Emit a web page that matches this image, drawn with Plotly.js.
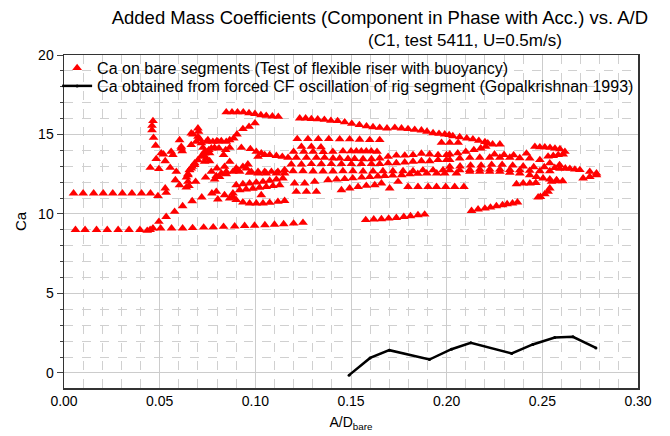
<!DOCTYPE html>
<html><head><meta charset="utf-8">
<script src="https://cdn.plot.ly/plotly-3.0.1.min.js"></script>
<style>html,body{margin:0;padding:0;background:#fff}#chart{width:670px;height:436px}</style>
</head><body><div id="chart"></div>
<script>
// Ca on bare segments, grouped by visible strands: [A/D, Ca]
const leftRows = [[0.005,11.3],[0.010,11.3],[0.0155,11.3],[0.0205,11.3],[0.0255,11.3],[0.0305,11.3],[0.0355,11.3],[0.0405,11.3],[0.0452,11.3],[0.0491,11.13],[0.0534,11.34],
[0.006,9.0],[0.011,9.0],[0.017,9.0],[0.0226,9.0],[0.0283,9.0],[0.034,9.0],[0.0397,9.0],[0.0435,8.95],[0.045,9.0],[0.0465,9.1],[0.0505,9.1],[0.0562,9.1],[0.062,9.1],[0.0672,9.12],[0.073,9.15],[0.078,9.17],[0.0834,9.2],[0.0892,9.22],[0.0944,9.25],[0.0996,9.27],[0.105,9.3],[0.110,9.33],[0.1148,9.36],[0.120,9.4],[0.1249,9.45]];

const earlyCluster = [[0.0496,9.51],[0.0534,9.82],[0.0578,10.14],[0.062,10.5],[0.067,10.81],[0.072,11.05],[0.0773,11.3],
[0.0465,15.85],[0.046,15.55],[0.046,15.28],[0.0468,14.8],[0.0479,14.3],[0.0508,13.82],[0.052,13.75],[0.0482,13.46],[0.0529,13.33],[0.0451,12.91],[0.0496,12.83],[0.0555,12.91],[0.056,13.92],[0.0569,13.71],[0.0613,14.13],[0.0618,13.96],[0.0587,12.66],
[0.0604,11.82],[0.0639,11.67],[0.0529,11.61],[0.0582,12.13],[0.0604,14.65],[0.0665,15.07],[0.0613,14.23]];

const midCluster = [[0.0648,12.03],[0.064,12.3],[0.0648,12.51],[0.0656,12.75],[0.067,12.97],[0.0683,13.19],[0.07,13.39],[0.0718,13.6],[0.0735,13.81],[0.0757,14.03],
[0.0665,14.34],[0.0674,15.01],[0.07,15.39],[0.0703,15.18],[0.07,14.86],[0.0709,14.72],[0.0691,14.55],[0.0718,14.45],[0.0726,14.17],[0.0735,13.92],[0.0723,13.71],[0.0744,13.5],[0.0735,13.29],[0.0761,13.33],[0.0752,14.65],[0.077,14.13],[0.0761,13.82],[0.0787,14.17],[0.0799,14.59],[0.0822,14.59],[0.0848,14.55],[0.0866,14.65],[0.0887,14.76],[0.0904,15.01],[0.0935,15.35],[0.0967,15.49],[0.0998,15.71],
[0.0744,14.55],[0.0778,14.55],[0.0804,14.55],
[0.081,14.13],[0.0845,14.03],[0.0834,13.71],[0.0866,14.17],[0.0927,14.17],[0.0974,14.09],[0.1005,13.92],[0.1031,13.82],[0.1049,13.71],[0.1075,13.71],[0.111,13.66],[0.1141,13.6],[0.1171,13.54],[0.1014,13.6],
[0.0866,13.29],[0.0839,12.97],[0.0799,12.87],[0.077,12.66],[0.09,12.87],[0.0935,12.97],[0.0961,13.12],[0.0918,12.66],[0.0979,12.66],[0.1014,12.66],[0.1049,12.66],[0.1084,12.66],[0.1118,12.66],[0.1153,12.77],[0.0665,12.87],[0.0683,13.08]];

const lowerCluster = [[0.0648,12.45],[0.0656,12.77],[0.0653,11.76],[0.0688,12.03],[0.074,12.3],[0.0796,12.39],[0.0822,12.56],[0.0848,12.66],[0.0909,12.77],[0.097,12.6],[0.1014,12.56],[0.1057,12.56],[0.111,12.56],[0.1153,12.56],
[0.0787,12.18],[0.0813,12.34],[0.0848,12.51],[0.0883,12.66],[0.0953,12.87],
[0.09,11.82],[0.0935,11.88],[0.097,11.93],[0.1005,11.98],[0.104,12.03],[0.1075,12.1],[0.111,12.17],[0.1144,12.24],
[0.0918,11.5],[0.0952,11.55],[0.0987,11.6],[0.1022,11.66],[0.1057,11.71],[0.1092,11.76],[0.1127,11.82],
[0.0804,10.92],[0.0839,11.19],[0.0883,11.3],[0.0866,10.98],[0.09,10.88],[0.0935,10.73],[0.097,10.67],[0.1005,10.67],[0.104,10.67],[0.1075,10.71],[0.1118,10.77],[0.1153,10.83],[0.1031,11.19],[0.0796,11.4],[0.0883,11.08]];

const topBands = [[0.0848,16.4],[0.0878,16.4],[0.0907,16.4],[0.0937,16.4],[0.0967,16.35],[0.0998,16.3],[0.1029,16.22],[0.1057,16.18],[0.1089,16.14],[0.112,16.12],
[0.1232,16.02],[0.1263,16.02],[0.1293,15.98],[0.1326,15.96],[0.1361,15.93],[0.1395,15.87],[0.143,15.85],[0.1467,15.77],[0.1504,15.68],[0.1544,15.6],[0.1581,15.52],[0.1615,15.47],[0.165,15.43],[0.1688,15.39],[0.1729,15.43],[0.1764,15.39],[0.1798,15.35],[0.1833,15.3],[0.1868,15.26],[0.1897,15.18],[0.1929,15.09],[0.196,15.05],[0.199,15.01],[0.2013,14.97],
[0.2032,14.9],[0.2068,14.84],[0.2105,14.76],[0.2137,14.7],[0.2168,14.61],[0.22,14.53],[0.2215,14.45],[0.2204,14.23],[0.2178,14.13],[0.2142,14.03],[0.21,13.92],[0.2058,13.82],[0.2016,13.75],
[0.224,14.38],[0.2278,14.38],[0.1973,14.48],[0.2016,14.48],[0.206,14.48],
[0.1219,14.72],[0.1275,14.72],[0.1329,14.72],[0.1384,14.72],[0.1441,14.7],[0.1493,14.7],[0.1545,14.68],[0.1598,14.66],[0.165,14.66],
[0.2461,14.23],[0.2487,14.2],[0.2513,14.2],[0.254,14.17],[0.2566,14.12],[0.2592,14.08],[0.2618,13.92],[0.2609,13.75],[0.2583,13.71],[0.2557,13.66],[0.253,13.62]];

const midBand = [[0.1241,14.23],[0.1293,14.23],[0.1343,14.2],
[0.12,13.92],[0.1253,13.92],[0.1302,13.92],[0.1355,13.9],[0.1405,13.92],[0.1458,13.95],[0.15,13.95],[0.1528,13.95],[0.1554,13.95],[0.158,13.95],[0.1606,13.95],[0.1636,13.92],
[0.1214,13.54],[0.1267,13.54],[0.1319,13.54],[0.1362,13.54],[0.1406,13.5],[0.1441,13.5],[0.1484,13.47],[0.1519,13.47],[0.1563,13.45],[0.1607,13.45],[0.165,13.5],[0.1694,13.6],[0.1737,13.68],[0.1781,13.68],[0.1824,13.71],[0.1868,13.8],[0.1911,13.75],[0.1955,13.71],[0.1999,13.71],
[0.1188,13.12],[0.1241,13.12],[0.1293,13.15],[0.1345,13.15],[0.1397,13.15],[0.145,13.15],[0.1502,13.15],[0.1554,13.15],[0.1607,13.15],[0.165,13.15],[0.1694,13.2],[0.1737,13.2],[0.1781,13.25],[0.1824,13.3],[0.1868,13.33],[0.1911,13.33],[0.1955,13.4],[0.1999,13.4],
[0.1197,12.7],[0.1249,12.7],[0.1302,12.68],[0.1354,12.68],[0.1406,12.68],[0.1458,12.7],[0.151,12.7],[0.1563,12.68],[0.1615,12.68],[0.1667,12.7],[0.1719,12.7],[0.1772,12.7],[0.1824,12.7],[0.1876,12.75],[0.1929,12.75],[0.1981,12.75],
[0.1205,11.93],[0.1258,11.93],[0.131,12.03],[0.138,12.13],[0.1425,12.17],[0.1467,12.2],[0.1509,12.25],[0.1556,12.3],[0.1598,12.33],[0.164,12.37],[0.1676,12.4],[0.1718,12.42],[0.1765,12.45],[0.1807,12.5],[0.1849,12.53],[0.1896,12.56],[0.1948,12.56],[0.199,12.56],
[0.1214,11.4],[0.1267,11.4],[0.1319,11.4],[0.145,11.5],[0.1493,11.61],[0.1537,11.71],[0.158,11.78],[0.1624,11.82],[0.1659,11.93],[0.1702,11.61],[0.1746,12.03],[0.1798,11.71],[0.185,11.71],[0.1903,11.71],[0.1947,11.71],[0.1995,11.71],[0.2042,11.71],[0.209,11.71]];

const rightBand = [[0.2016,13.4],[0.2068,13.5],[0.2121,13.54],[0.2173,13.55],[0.2225,13.55],[0.2278,13.55],[0.233,13.55],[0.2382,13.52],[0.2434,13.5],[0.2487,13.4],[0.2539,13.19],[0.259,13.08],
[0.225,13.75],[0.23,13.72],[0.235,13.7],[0.2417,13.81],
[0.2016,12.97],[0.207,13.0],[0.2125,13.05],[0.218,13.05],[0.2235,13.1],[0.229,13.1],[0.2345,13.05],[0.24,13.0],[0.2455,12.95],[0.251,12.95],[0.2565,12.9],[0.262,12.87],[0.267,12.8],
[0.2016,12.75],[0.2068,12.75],[0.2121,12.78],[0.2173,12.8],[0.2225,12.8],[0.2278,12.8],[0.233,12.78],[0.2382,12.75],[0.2434,12.72],[0.2487,12.7],[0.2539,12.7],[0.2592,12.85],[0.2644,12.85],[0.2696,12.77],[0.2748,12.66],[0.2783,12.56],[0.2783,12.45],[0.2748,12.34],[0.2713,12.24],
[0.2051,12.56],[0.2121,12.66],[0.2173,12.66],[0.2225,12.66],[0.2278,12.66],[0.233,12.6],[0.2382,12.56],[0.2434,12.45],[0.2469,12.34],[0.2504,12.24],[0.2539,12.18],[0.2574,12.13],
[0.2365,11.88],[0.24,11.93],[0.2435,11.93],[0.2466,11.96],[0.2548,12.03],[0.2577,12.07],[0.2606,12.07],
[0.2539,11.61],[0.253,11.4],[0.2513,11.25],[0.249,11.08],[0.2478,11.05]];

const lowRows = [[0.1577,9.62],[0.1619,9.66],[0.1659,9.68],[0.1697,9.72],[0.1737,9.76],[0.1776,9.82],[0.1811,9.87],[0.185,9.93],[0.1885,9.97],
[0.213,10.2],[0.2164,10.29],[0.22,10.35],[0.2229,10.41],[0.226,10.5],[0.2292,10.56],[0.2316,10.62],[0.2344,10.67],[0.237,10.73]];

// Gopalkrishnan 1993 forced CF oscillation
const gopX = [0.149,0.160,0.170,0.191,0.2025,0.2126,0.234,0.245,0.2565,0.266,0.278];
const gopY = [-0.14,0.94,1.43,0.84,1.49,1.89,1.22,1.79,2.23,2.27,1.57];

const titleLine1 = 'Added Mass Coefficients (Component in Phase with Acc.) vs. A/D';
const titleLine2 = '(C1, test 5411, U=0.5m/s)';

const barePts = [].concat(leftRows, earlyCluster, midCluster, lowerCluster, topBands, midBand, rightBand, lowRows);

const FONT = 'Liberation Sans, Arial, sans-serif';
const traces = [
  {x: barePts.map(p=>p[0]), y: barePts.map(p=>p[1]), type:'scatter', mode:'markers',
   name:'Ca on bare segments (Test of flexible riser with buoyancy)', legend:'legend',
   marker:{symbol:'triangle-up', size:8.5, color:'#ff0000', line:{width:0}}},
  {x: gopX, y: gopY, type:'scatter', mode:'lines+markers', legend:'legend2',
   name:'Ca obtained from forced CF oscillation of rig segment (Gopalkrishnan 1993)',
   line:{color:'#000', width:2.5}, marker:{color:'#000', size:3}}
];
const grid = '#cccccc';
const legFont = {family:FONT, size:16, color:'#000'};
const layout = {
  width:670, height:436,
  margin:{l:64, r:32, t:55, b:48},
  paper_bgcolor:'#fff', plot_bgcolor:'#fff',
  font:{family:FONT, color:'#000', size:14},
  title:{text:titleLine1,
    font:{family:FONT, size:18.5, color:'#000'}, xref:'container', x:0.567, xanchor:'center', yref:'container', y:0.959, yanchor:'middle'},
  annotations:[{text:titleLine2, xref:'paper', yref:'paper', x:0.699, y:1.045, xanchor:'center', yanchor:'middle', showarrow:false,
    font:{family:FONT, size:17, color:'#000'}}],
  showlegend:true,
  legend:{x:-0.012, y:1.012, xanchor:'left', yanchor:'top', bgcolor:'rgba(0,0,0,0)', font:legFont},
  legend2:{x:-0.012, y:0.958, xanchor:'left', yanchor:'top', bgcolor:'rgba(0,0,0,0)', font:legFont},
  xaxis:{range:[0,0.30], dtick:0.05, tick0:0, tickformat:'.2f', showgrid:true, gridcolor:grid, gridwidth:1,
    minor:{dtick:0.01, showgrid:true, gridcolor:'#d0d0d0', griddash:'dash', gridwidth:1},
    showline:true, mirror:true, linecolor:'#333', linewidth:1.5, ticks:'', zeroline:false,
    tickfont:{size:14}, title:{text:'A/D<sub>bare</sub>', font:{size:14}, standoff:9}},
  yaxis:{range:[-0.95,20], dtick:5, tick0:0, showgrid:true, gridcolor:grid, gridwidth:1,
    minor:{dtick:1, showgrid:true, gridcolor:'#d0d0d0', griddash:'dash', gridwidth:1, ticks:'outside', ticklen:3, tickcolor:'#444'},
    ticks:'outside', ticklen:6, tickcolor:'#444', showline:true, mirror:true, linecolor:'#333', linewidth:1.5, zeroline:false,
    tickfont:{size:14}, title:{text:'Ca', font:{size:15}, standoff:8}}
};
Plotly.newPlot('chart', traces, layout, {staticPlot:true, displayModeBar:false});
</script></body></html>
